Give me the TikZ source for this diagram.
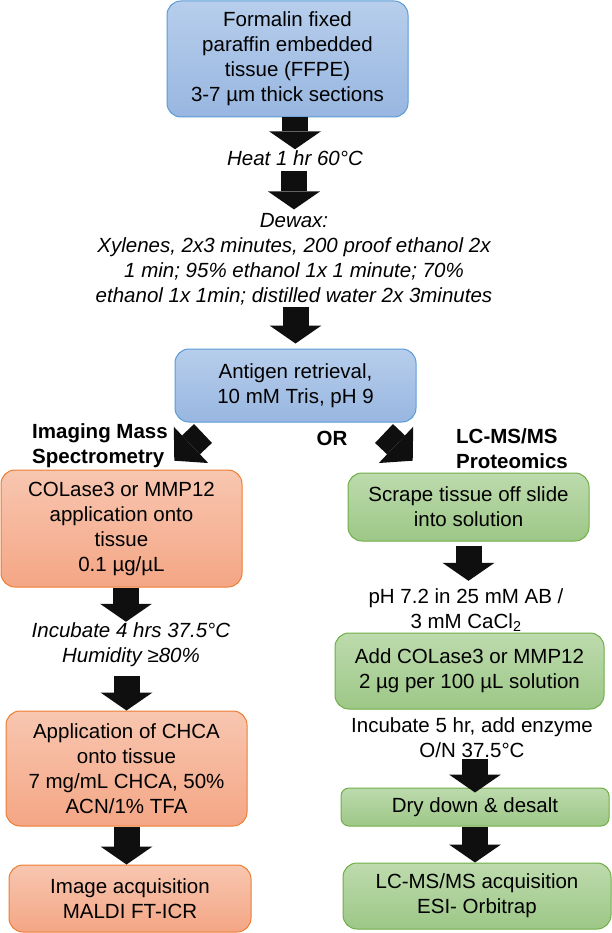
\documentclass[tikz,border=0pt]{standalone}
\usepackage{fontspec}
\setmainfont{Liberation Sans}
\usepackage{tikz}
\usetikzlibrary{arrows.meta,shapes,positioning}
\usepackage{xcolor}
\definecolor{stblue}{RGB}{91,155,213}
\definecolor{stbluetop}{RGB}{183,206,236}
\definecolor{stbluebot}{RGB}{152,182,224}
\definecolor{storange}{RGB}{237,125,49}
\definecolor{storangetop}{RGB}{248,198,176}
\definecolor{storangebot}{RGB}{244,166,133}
\definecolor{stgreen}{RGB}{112,173,71}
\definecolor{stgreentop}{RGB}{189,219,173}
\definecolor{stgreenbot}{RGB}{157,199,135}
\definecolor{stblack}{RGB}{15,15,15}
\newcommand{\stepfont}{\fontsize{20.5pt}{25pt}\selectfont}
\tikzstyle{blockarrow} = [line width=26pt, draw=stblack, -{Triangle[length=18pt, width=52pt, line width=0pt]}]
\tikzstyle{diagarrow} = [line width=26pt, draw=stblack, -{Triangle[length=23pt, width=50pt, line width=0pt]}]

\begin{document}
\begin{tikzpicture}[
    x=1pt, y=-1pt,
    node distance=100pt,
    stage/.style={rectangle, rounded corners=14pt, line width=1pt, minimum width=241pt, font=\stepfont, align=center, inner sep=3pt},
    bluestage/.style={stage, draw=stblue, top color=stbluetop, bottom color=stbluebot},
    orangestage/.style={stage, draw=storange, top color=storangetop, bottom color=storangebot},
    greenstage/.style={stage, draw=stgreen, top color=stgreentop, bottom color=stgreenbot, minimum width=268pt},
    note/.style={font=\stepfont\itshape, align=center, inner sep=1pt},
    plainnote/.style={font=\stepfont, align=center, inner sep=1pt},
    branch/.style={font=\stepfont\bfseries, align=left, inner sep=0pt}
]
\useasboundingbox (0,0) rectangle (612,933);

% Common trunk
\node (ffpe) [bluestage, minimum height=116pt] at (287.5,59) {Formalin fixed\\paraffin embedded\\tissue (FFPE)\\3-7 µm thick sections};
\node (heat) [note, below of=ffpe, xshift=7.5pt, yshift=1pt] {Heat 1 hr 60°C};
\node (dewax) [note, below of=heat, xshift=-1pt, yshift=-1.5pt] {Dewax:\\Xylenes, 2x3 minutes, 200 proof ethanol 2x\\1 min; 95\% ethanol 1x 1 minute; 70\%\\ethanol 1x 1min; distilled water 2x 3minutes};
\node (antigen) [bluestage, minimum height=73pt, below of=dewax, xshift=1.5pt, yshift=-26pt] {Antigen retrieval,\\10 mM Tris, pH 9};

% Branch labels
\node (imslabel) [branch, anchor=west] at (32,445.5) {Imaging Mass\\Spectrometry};
\node (orlabel) [branch] at (332,438) {OR};
\node (lclabel) [branch, anchor=west] at (456,449) {LC-MS/MS\\Proteomics};
\coordinate (lsplit) at (203,433.5);
\coordinate (lturn) at (174.3,460.7);
\coordinate (rsplit) at (384,433.5);
\coordinate (rturn) at (412.7,460.7);

% Imaging branch
\node (colase) [orangestage, minimum height=117pt, below of=antigen, xshift=-174pt, yshift=-43pt] {COLase3 or MMP12\\application onto\\tissue\\0.1 µg/µL};
\node (incub4) [note, below of=colase, xshift=9.5pt, yshift=-16.5pt] {Incubate 4 hrs 37.5°C\\Humidity ≥80\%};
\node (chca) [orangestage, minimum height=115pt, below of=incub4, xshift=-4.5pt, yshift=-23.5pt] {Application of CHCA\\onto tissue\\7 mg/mL CHCA, 50\%\\ACN/1\% TFA};
\node (maldi) [orangestage, minimum height=67pt, minimum width=242pt, below of=chca, xshift=3.5pt, yshift=-30pt] {Image acquisition\\MALDI FT-ICR};

% Proteomics branch
\node (scrape) [greenstage, minimum height=68pt, minimum width=241pt, below of=antigen, xshift=173pt, yshift=-21.5pt] {Scrape tissue off slide\\into solution};
\node (buffer) [plainnote, below of=scrape, xshift=-2.5pt, yshift=-3.5pt] {pH 7.2 in 25 mM AB /\\3 mM CaCl\textsubscript{2}};
\node (addenz) [greenstage, minimum height=76pt, minimum width=269pt, below of=buffer, xshift=3.5pt, yshift=39.5pt] {Add COLase3 or MMP12\\2 µg per 100 µL solution};
\node (incub5) [plainnote, below of=addenz, xshift=2.5pt, yshift=33.5pt] {Incubate 5 hr, add enzyme\\O/N 37.5°C};
\node (desalt) [greenstage, rounded corners=8pt, minimum height=38pt, below of=incub5, xshift=3pt, yshift=30.5pt] {Dry down \& desalt};
\node (lcacq) [greenstage, minimum height=66pt, below of=desalt, xshift=2pt, yshift=11pt] {LC-MS/MS acquisition\\ESI- Orbitrap};

% Arrows
\draw[blockarrow] (heat.north |- ffpe.south) -- (heat.north);
\draw[blockarrow, shorten <=4pt, shorten >=3pt] (dewax.north |- heat.south) -- (dewax.north);
\draw[blockarrow, shorten >=5pt] (antigen.north |- dewax.south) -- (antigen.north);
\draw[diagarrow] (lsplit) -- (lturn);
\draw[diagarrow] (rsplit) -- (rturn);
\draw[blockarrow] ([xshift=4.5pt]colase.south) -- ([xshift=4.5pt]colase.south |- incub4.north);
\draw[blockarrow, shorten <=8pt] (chca.north |- incub4.south) -- (chca.north);
\draw[blockarrow] (chca.south) -- (chca.south |- maldi.north);
\draw[blockarrow, shorten <=4pt, shorten >=7pt] (scrape.south) -- (scrape.south |- buffer.north);
\draw[blockarrow, shorten >=-5pt] (desalt.north |- incub5.south) -- (desalt.north);
\draw[blockarrow] (desalt.south) -- (desalt.south |- lcacq.north);
\end{tikzpicture}
\end{document}
